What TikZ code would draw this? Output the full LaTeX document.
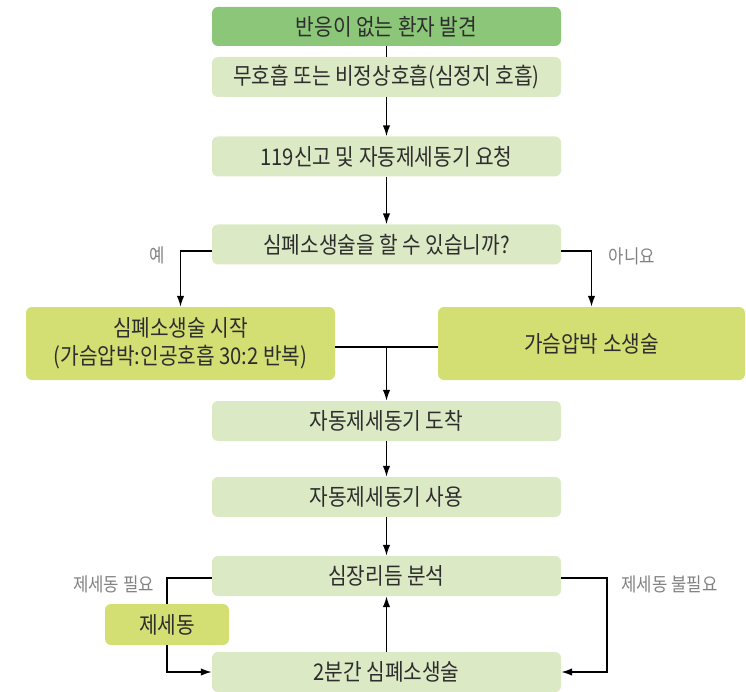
\documentclass[tikz,border=0pt]{standalone}
\usepackage{fontspec}
\newfontfamily\kr[FakeStretch=0.88]{Noto Sans CJK KR}
\usetikzlibrary{arrows.meta,calc}
\definecolor{dg}{RGB}{140,198,120}
\definecolor{lg}{RGB}{220,233,197}
\definecolor{yg}{RGB}{211,223,115}
\definecolor{txt}{RGB}{45,45,45}
\definecolor{labc}{RGB}{130,130,130}
\begin{document}
\begin{tikzpicture}[x=1pt,y=-1pt,
  box/.style={rounded corners=6pt, minimum height=40pt, inner sep=0pt, draw=none,
    font=\kr\fontsize{23}{28}\selectfont, text=txt, align=center},
  conn/.style={line width=1.6pt, black},
  arr/.style={conn, -{Latex[length=11pt,width=7.5pt]}},
  lab/.style={font=\kr\fontsize{19}{22}\selectfont, text=labc, inner sep=0pt}]
\useasboundingbox (0,0) rectangle (746,692);
\node[box, fill=dg, minimum width=349pt, minimum height=39pt] (b1) at (386.5,26.5) {반응이 없는 환자 발견};
\node[box, fill=lg, minimum width=349pt] (b2) at (386.5,77) {무호흡 또는 비정상호흡(심정지 호흡)};
\node[box, fill=lg, minimum width=349pt] (b3) at (386.5,156.5) {119신고 및 자동제세동기 요청};
\node[box, fill=lg, minimum width=349pt] (b4) at (386.5,244.5) {심폐소생술을 할 수 있습니까?};
\node[box, fill=yg, minimum width=309pt, minimum height=73pt] (b5) at (180.5,343.5) {심폐소생술 시작\\(가슴압박:인공호흡 30:2 반복)};
\node[box, fill=yg, minimum width=307pt, minimum height=73pt] (b6) at (591.5,343.5) {가슴압박 소생술};
\node[box, fill=lg, minimum width=349pt] (b7) at (386.5,421) {자동제세동기 도착};
\node[box, fill=lg, minimum width=349pt] (b8) at (386.5,497) {자동제세동기 사용};
\node[box, fill=lg, minimum width=349pt] (b9) at (386.5,576) {심장리듬 분석};
\node[box, fill=yg, minimum width=124pt, minimum height=41pt] (d) at (167,624.5) {제세동};
\node[box, fill=lg, minimum width=349pt] (b10) at (386.5,672) {2분간 심폐소생술};

\node[lab] (l1) at (157,255) {예};
\node[lab] (l2) at (632,256) {아니요};
\node[lab] (l3) at (113.5,584) {제세동 필요};
\node[lab] (l4) at (669.5,584) {제세동 불필요};

\draw[conn] (b1.south) -- (b2.north);
\draw[arr] (b2.south) -- (b3.north);
\draw[arr] (b3.south) -- (b4.north);
\draw[arr] ($(b4.west)+(0,6.5)$) -| (b5.north);
\draw[arr] ($(b4.east)+(0,6.5)$) -| (b6.north);
\coordinate (j) at (386.5,347);
\draw[conn] (b5.east |- j) -- (b6.west |- j);
\draw[arr] (j) -- (b7.north);
\draw[arr] (b7.south) -- (b8.north);
\draw[arr] (b8.south) -- (b9.north);
\draw[arr] (b10.north) -- (b9.south);
\draw[conn] ($(b9.west)+(0,2)$) -| (d.north);
\draw[arr] (d.south) |- (b10.west);
\coordinate (r) at (607,672);
\draw[arr] ($(b9.east)+(0,2)$) -| (r) -- (b10.east);
\end{tikzpicture}
\end{document}
